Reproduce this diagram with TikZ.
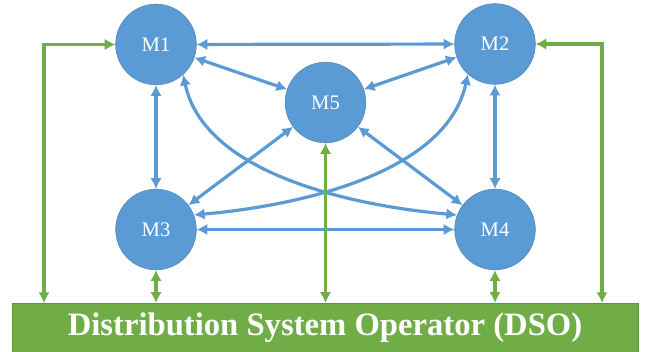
\documentclass[tikz,border=0pt]{standalone}
\usepackage{fontspec}
\setmainfont{Liberation Serif}
\usetikzlibrary{arrows.meta}
\definecolor{mblue}{HTML}{5B9BD5}
\definecolor{mgreen}{HTML}{70AD47}
\tikzset{
 x=0.75pt,y=-0.75pt,
 mnode/.style={circle,fill=mblue,draw=mblue!85!black,line width=0.4pt,minimum size=60.5pt,inner sep=0pt,text=white,font=\fontsize{15.5}{18}\selectfont},
 conn/.style={draw=mblue,line width=2.4pt,{Latex[length=8pt,width=8.5pt]}-{Latex[length=8pt,width=8.5pt]}},
 gconn/.style={draw=mgreen,line width=2.4pt,{Latex[length=8pt,width=8.5pt]}-{Latex[length=8pt,width=8.5pt]}}
}
\begin{document}
\begin{tikzpicture}
\useasboundingbox (0,0) rectangle (654,352);
\fill[white] (0,0) rectangle (654,352);
\node[mnode] (m1) at (156,44.5) {M1};
\node[mnode] (m2) at (495,44) {M2};
\node[mnode] (m5) at (325.5,102.5) {M5};
\node[mnode] (m3) at (156,229.5) {M3};
\node[mnode] (m4) at (495,229.5) {M4};
\node[fill=mgreen,draw=mgreen!85!black,line width=0.4pt,minimum width=469.5pt,minimum height=36.5pt,inner sep=0pt,text=white,font=\fontsize{24.5}{28}\selectfont\bfseries] (dso) at (325,327.5) {\raisebox{-3pt}{Distribution System Operator (DSO)}};
\draw[conn] (m1) -- (m2);
\draw[conn] (m3) -- (m4);
\draw[conn] (m1) -- (m3);
\draw[conn] (m2) -- (m4);
\draw[conn] (m1) -- (m5);
\draw[conn] (m2) -- (m5);
\draw[conn] (m3) -- (m5);
\draw[conn] (m4) -- (m5);
\draw[conn] (m1.-48) to[out=-78,in=175,looseness=.85] (m4.159);
\draw[conn] (m2.-132) to[out=-102,in=5,looseness=.85] (m3.21);
\draw[gconn] (m3) -- (m3|-dso.north);
\draw[gconn] (m4) -- (m4|-dso.north);
\draw[gconn] (m5) -- (m5|-dso.north);
\coordinate (la) at (44,303);
\coordinate (ra) at (602,303);
\draw[gconn] (m1.west) -- (44,44.5) -- (la);
\draw[gconn] (m2.east) -- (602,44) -- (ra);
\end{tikzpicture}
\end{document}
